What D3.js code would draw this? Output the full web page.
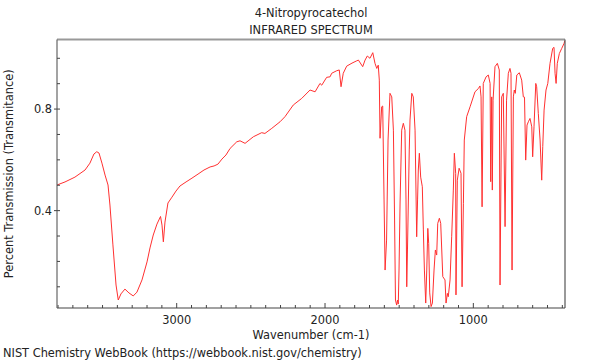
<!DOCTYPE html>
<html><head><meta charset="utf-8">
<script src="https://cdn.jsdelivr.net/npm/d3@7"></script>
<style>body{margin:0;background:#fff}svg{display:block;font-family:"DejaVu Sans",sans-serif}</style>
</head><body><svg id="c" width="600" height="360"></svg>
<script>
const title = "4-Nitropyrocatechol";
const subtitle = "INFRARED SPECTRUM";
const xLabel = "Wavenumber (cm-1)";
const yLabel = "Percent Transmission (Transmitance)";
const footer = "NIST Chemistry WebBook (https://webbook.nist.gov/chemistry)";
const xTickLabels = [3000, 2000, 1000];
const yTickLabels = [0.4, 0.8];
const wavenumber = [3807,3753,3686,3618,3585,3558,3539,3524,3504,3483,3463,3450,3430,3409,3394,3376,3349,3322,3293,3268,3234,3200,3180,3158,3133,3109,3099,3090,3079,3059,3032,3005,2978,2937,2897,2856,2816,2775,2748,2722,2695,2668,2640,2595,2573,2539,2483,2427,2405,2359,2303,2270,2214,2157,2101,2067,2034,2022,1989,1966,1955,1921,1904,1892,1877,1854,1818,1786,1775,1746,1730,1715,1697,1678,1663,1651,1641,1634,1629,1618,1611,1602,1595,1585,1575,1562,1550,1539,1531,1525,1517,1511,1506,1501,1494,1483,1472,1461,1454,1449,1444,1432,1427,1415,1405,1393,1382,1376,1371,1364,1355,1344,1337,1330,1321,1314,1307,1301,1294,1285,1276,1265,1256,1247,1240,1229,1220,1206,1191,1184,1175,1169,1157,1146,1135,1128,1119,1117,1108,1096,1083,1076,1067,1061,1045,1022,989,966,955,948,941,933,914,899,887,883,876,872,867,854,838,825,820,809,798,786,776,764,753,746,739,730,724,717,707,690,674,663,655,647,638,629,618,606,600,591,579,573,562,550,539,532,523,510,498,483,465,456,449,442,434,420,404,388,383];
const transmittance = [0.501,0.513,0.532,0.560,0.587,0.623,0.632,0.627,0.587,0.540,0.501,0.422,0.265,0.107,0.048,0.072,0.091,0.076,0.064,0.079,0.127,0.198,0.253,0.304,0.347,0.377,0.343,0.277,0.355,0.430,0.453,0.477,0.497,0.513,0.528,0.544,0.560,0.572,0.576,0.583,0.603,0.619,0.645,0.671,0.675,0.665,0.691,0.707,0.704,0.724,0.750,0.770,0.816,0.842,0.875,0.868,0.901,0.894,0.925,0.927,0.941,0.951,0.954,0.888,0.941,0.969,0.981,0.990,0.993,0.967,0.993,1.009,1.000,1.022,0.980,0.960,0.973,0.914,0.685,0.809,0.812,0.442,0.166,0.284,0.678,0.862,0.848,0.717,0.363,0.048,0.028,0.048,0.032,0.166,0.430,0.717,0.744,0.717,0.442,0.100,0.245,0.639,0.757,0.862,0.848,0.717,0.297,0.442,0.560,0.626,0.532,0.494,0.324,0.166,0.036,0.166,0.330,0.271,0.076,0.022,0.036,0.166,0.245,0.225,0.350,0.370,0.350,0.140,0.127,0.036,0.074,0.061,0.127,0.297,0.481,0.626,0.547,0.068,0.520,0.567,0.547,0.100,0.429,0.678,0.770,0.809,0.868,0.881,0.891,0.848,0.415,0.901,0.927,0.934,0.901,0.514,0.848,0.481,0.835,0.967,0.980,0.954,0.107,0.848,0.862,0.337,0.835,0.941,0.960,0.941,0.166,0.848,0.875,0.862,0.934,0.943,0.914,0.848,0.847,0.599,0.737,0.750,0.763,0.730,0.612,0.730,0.901,0.888,0.783,0.678,0.520,0.652,0.796,0.875,0.901,0.980,1.039,1.043,0.941,0.901,0.980,1.019,1.039,1.059,1.070];

const svg = d3.select("#c");
const FS = 11.4;
const L = 57, R = 565, T = 39.5, B = 308;
const x = d3.scaleLinear().domain([3807, 382]).range([L, R]);
const y = d3.scaleLinear().domain([0.0165, 1.074]).range([B, T]);
const data = wavenumber.map((w, i) => ({w, t: transmittance[i]}));

// spectrum
svg.append("clipPath").attr("id","pc").append("rect").attr("x",L).attr("y",T).attr("width",R-L).attr("height",B-T);
svg.append("path").datum(data)
  .attr("clip-path","url(#pc)")
  .attr("fill","none").attr("stroke","#ff3030").attr("stroke-width",1)
  .attr("d", d3.line().x(d => x(d.w)).y(d => y(d.t)));

// frame
svg.append("line").attr("x1",L).attr("x2",R).attr("y1",T).attr("y2",T).attr("stroke","#999").attr("stroke-width",2);
svg.append("line").attr("x1",R).attr("x2",R).attr("y1",T).attr("y2",B).attr("stroke","#555").attr("stroke-width",1.2);

// x axis
const xMinor = d3.range(400, 3801, 100);
const gx = svg.append("g").attr("transform",`translate(0,${B})`);
gx.append("line").attr("x1",L).attr("x2",R).attr("stroke","#444").attr("stroke-width",1.2);
gx.selectAll(".mt").data(xMinor).join("line")
  .attr("x1",d=>x(d)).attr("x2",d=>x(d)).attr("y1",0)
  .attr("y2",d=>xTickLabels.includes(d) ? -5 : -3).attr("stroke","#444");
gx.selectAll("text").data(xTickLabels).join("text")
  .attr("x",d=>x(d)).attr("y",16).attr("text-anchor","middle").attr("font-size",FS).attr("fill","#222").text(d=>d);

// y axis
const yMinor = d3.range(1, 11).map(d => d / 10);
const gy = svg.append("g").attr("transform",`translate(${L},0)`);
gy.append("line").attr("y1",T).attr("y2",B).attr("stroke","#666").attr("stroke-width",1.2);
gy.selectAll(".mt").data(yMinor).join("line")
  .attr("y1",d=>y(d)).attr("y2",d=>y(d))
  .attr("x1",d=>yTickLabels.some(v=>Math.abs(v-d)<1e-9) ? -3 : 0).attr("x2",3).attr("stroke","#444");
gy.selectAll("text").data(yTickLabels).join("text")
  .attr("x",-5).attr("y",d=>y(d)).attr("dy","0.36em").attr("text-anchor","end").attr("font-size",FS).attr("fill","#222").text(d=>d.toFixed(1));

// texts
const cx = (L + R) / 2;
svg.append("text").attr("x",cx).attr("y",17).attr("text-anchor","middle").attr("font-size",FS).attr("fill","#222").text(title);
svg.append("text").attr("x",cx).attr("y",34).attr("text-anchor","middle").attr("font-size",FS).attr("fill","#222").text(subtitle);
svg.append("text").attr("x",cx).attr("y",338.5).attr("text-anchor","middle").attr("font-size",FS).attr("fill","#222").text(xLabel);
svg.append("text").attr("transform",`translate(13,${(T+B)/2}) rotate(-90)`).attr("text-anchor","middle").attr("font-size",FS).attr("fill","#222").text(yLabel);
svg.append("text").attr("x",3).attr("y",357).attr("font-size",FS).attr("fill","#222").text(footer);
</script></body></html>
